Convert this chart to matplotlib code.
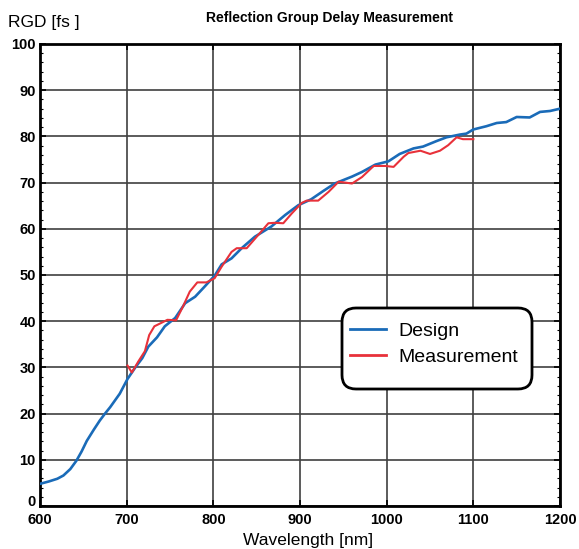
import matplotlib
matplotlib.use("Agg")
import matplotlib.pyplot as plt
from matplotlib.patches import FancyBboxPatch
from matplotlib.ticker import MultipleLocator
from matplotlib.transforms import IdentityTransform, ScaledTranslation

plt.rcParams['font.family'] = ['Liberation Sans', 'DejaVu Sans']

# ---- data ----
design_wl = [600, 610, 620, 627, 635, 642, 648, 654, 662, 669, 675, 681, 692, 701,
             710, 718, 725, 735, 744, 756, 767.5, 779, 790, 801.7, 809.6, 821, 832.7,
             848, 867, 883, 898, 913, 927, 940, 960, 971.5, 987, 1002, 1015, 1031,
             1042, 1057.7, 1069, 1084.6, 1092, 1100, 1115, 1127, 1138, 1150, 1165,
             1177, 1188.5, 1200]
design_rgd = [4.8, 5.3, 5.9, 6.6, 8.0, 9.8, 11.8, 14.1, 16.5, 18.5, 20.0, 21.4, 24.3, 27.5,
              30.0, 32.0, 34.5, 36.5, 38.9, 40.7, 43.9, 45.3, 47.5, 49.9, 52.3, 53.6, 55.8,
              58.3, 60.5, 63.0, 65.1, 66.4, 68.2, 69.8, 71.3, 72.3, 73.9, 74.6, 76.2, 77.4,
              77.8, 79.0, 79.8, 80.4, 80.6, 81.5, 82.2, 82.9, 83.1, 84.2, 84.1,
              85.3, 85.5, 86.0]

meas_wl = [701, 706, 713.5, 721, 726, 732, 739.6, 747, 757, 765, 772.8, 781.5, 792,
           801.5, 809.6, 821, 827, 838.5, 852, 863.5, 871, 880.7, 890.4, 902, 907.7,
           921, 933, 944.6, 960, 971.5, 985, 998.6, 1008, 1019.6, 1025, 1039, 1050,
           1061.5, 1071, 1080.7, 1088, 1100]
meas_rgd = [30.4, 28.9, 31.3, 33.5, 37.0, 38.9, 39.6, 40.3, 40.2, 43.2, 46.4, 48.4, 48.4,
            49.3, 51.8, 55.0, 55.8, 55.8, 58.7, 61.2, 61.3, 61.2, 63.3, 65.6, 66.1,
            66.1, 68.0, 70.2, 69.8, 71.2, 73.6, 73.6, 73.4, 75.6, 76.4, 76.9, 76.2,
            76.9, 78.1, 79.8, 79.4, 79.4]

x_ticks = [600, 700, 800, 900, 1000, 1100, 1200]
y_ticks = [0, 10, 20, 30, 40, 50, 60, 70, 80, 90, 100]

W, H = 579, 549
fig = plt.figure(figsize=(W / 100, H / 100), dpi=100)
ax = fig.add_axes([40 / W, 1 - 506 / H, (560 - 40) / W, (506 - 44) / H])

ax.plot(design_wl, design_rgd, color='#1a6bb8', lw=1.9, label='Design', zorder=3)
ax.plot(meas_wl, meas_rgd, color='#e8313a', lw=1.5, label='Measurement', zorder=4)

ax.set_xlim(600, 1200)
ax.set_ylim(0, 100)
ax.set_xticks(x_ticks)
ax.set_yticks(y_ticks)
ax.yaxis.set_minor_locator(MultipleLocator(2))
ax.grid(True, which='major', color='#404040', lw=1.2)
ax.set_axisbelow(True)
for s in ax.spines.values():
    s.set_linewidth(2)
ax.tick_params(axis='both', which='major', direction='in', length=4, width=1.2,
               labelsize=10.5, top=True, right=True, colors='black')
ax.tick_params(axis='x', which='major', pad=5)
ax.tick_params(axis='y', which='major', pad=3)
ax.tick_params(axis='y', which='minor', direction='in', length=2.5, width=0.8,
               left=True, right=True)
for lab in ax.get_xticklabels() + ax.get_yticklabels():
    lab.set_fontweight('bold')

# nudge the "0" label up so it clears the "600" label
zero_lab = ax.yaxis.get_major_ticks()[0].label1
zero_lab.set_transform(zero_lab.get_transform() +
                       ScaledTranslation(0, 4 / 72, fig.dpi_scale_trans))

fig.text(330 / W, 1 - 18 / H, 'Reflection Group Delay Measurement', ha='center',
         va='center', fontsize=10, fontweight='bold')
fig.text(8 / W, 1 - 22 / H, 'RGD [fs ]', ha='left', va='center', fontsize=12.5)
fig.text(308 / W, 1 - 540 / H, 'Wavelength [nm]', ha='center', va='center', fontsize=12.5)

box = FancyBboxPatch((342, H - 389), 190, 81,
                     boxstyle='round,pad=0,rounding_size=14',
                     transform=IdentityTransform(), facecolor='white',
                     edgecolor='black', lw=2, zorder=10)
fig.patches.append(box)

leg = fig.legend(loc='center left', bbox_to_anchor=(350 / W, 1 - 344 / H),
                 frameon=False, fontsize=14, handlelength=1.85, handletextpad=0.65,
                 borderpad=0, labelspacing=0.4, borderaxespad=0)
leg.set_zorder(11)
for ln in leg.get_lines():
    ln.set_linewidth(2)

fig.savefig('out.png', dpi=100)
